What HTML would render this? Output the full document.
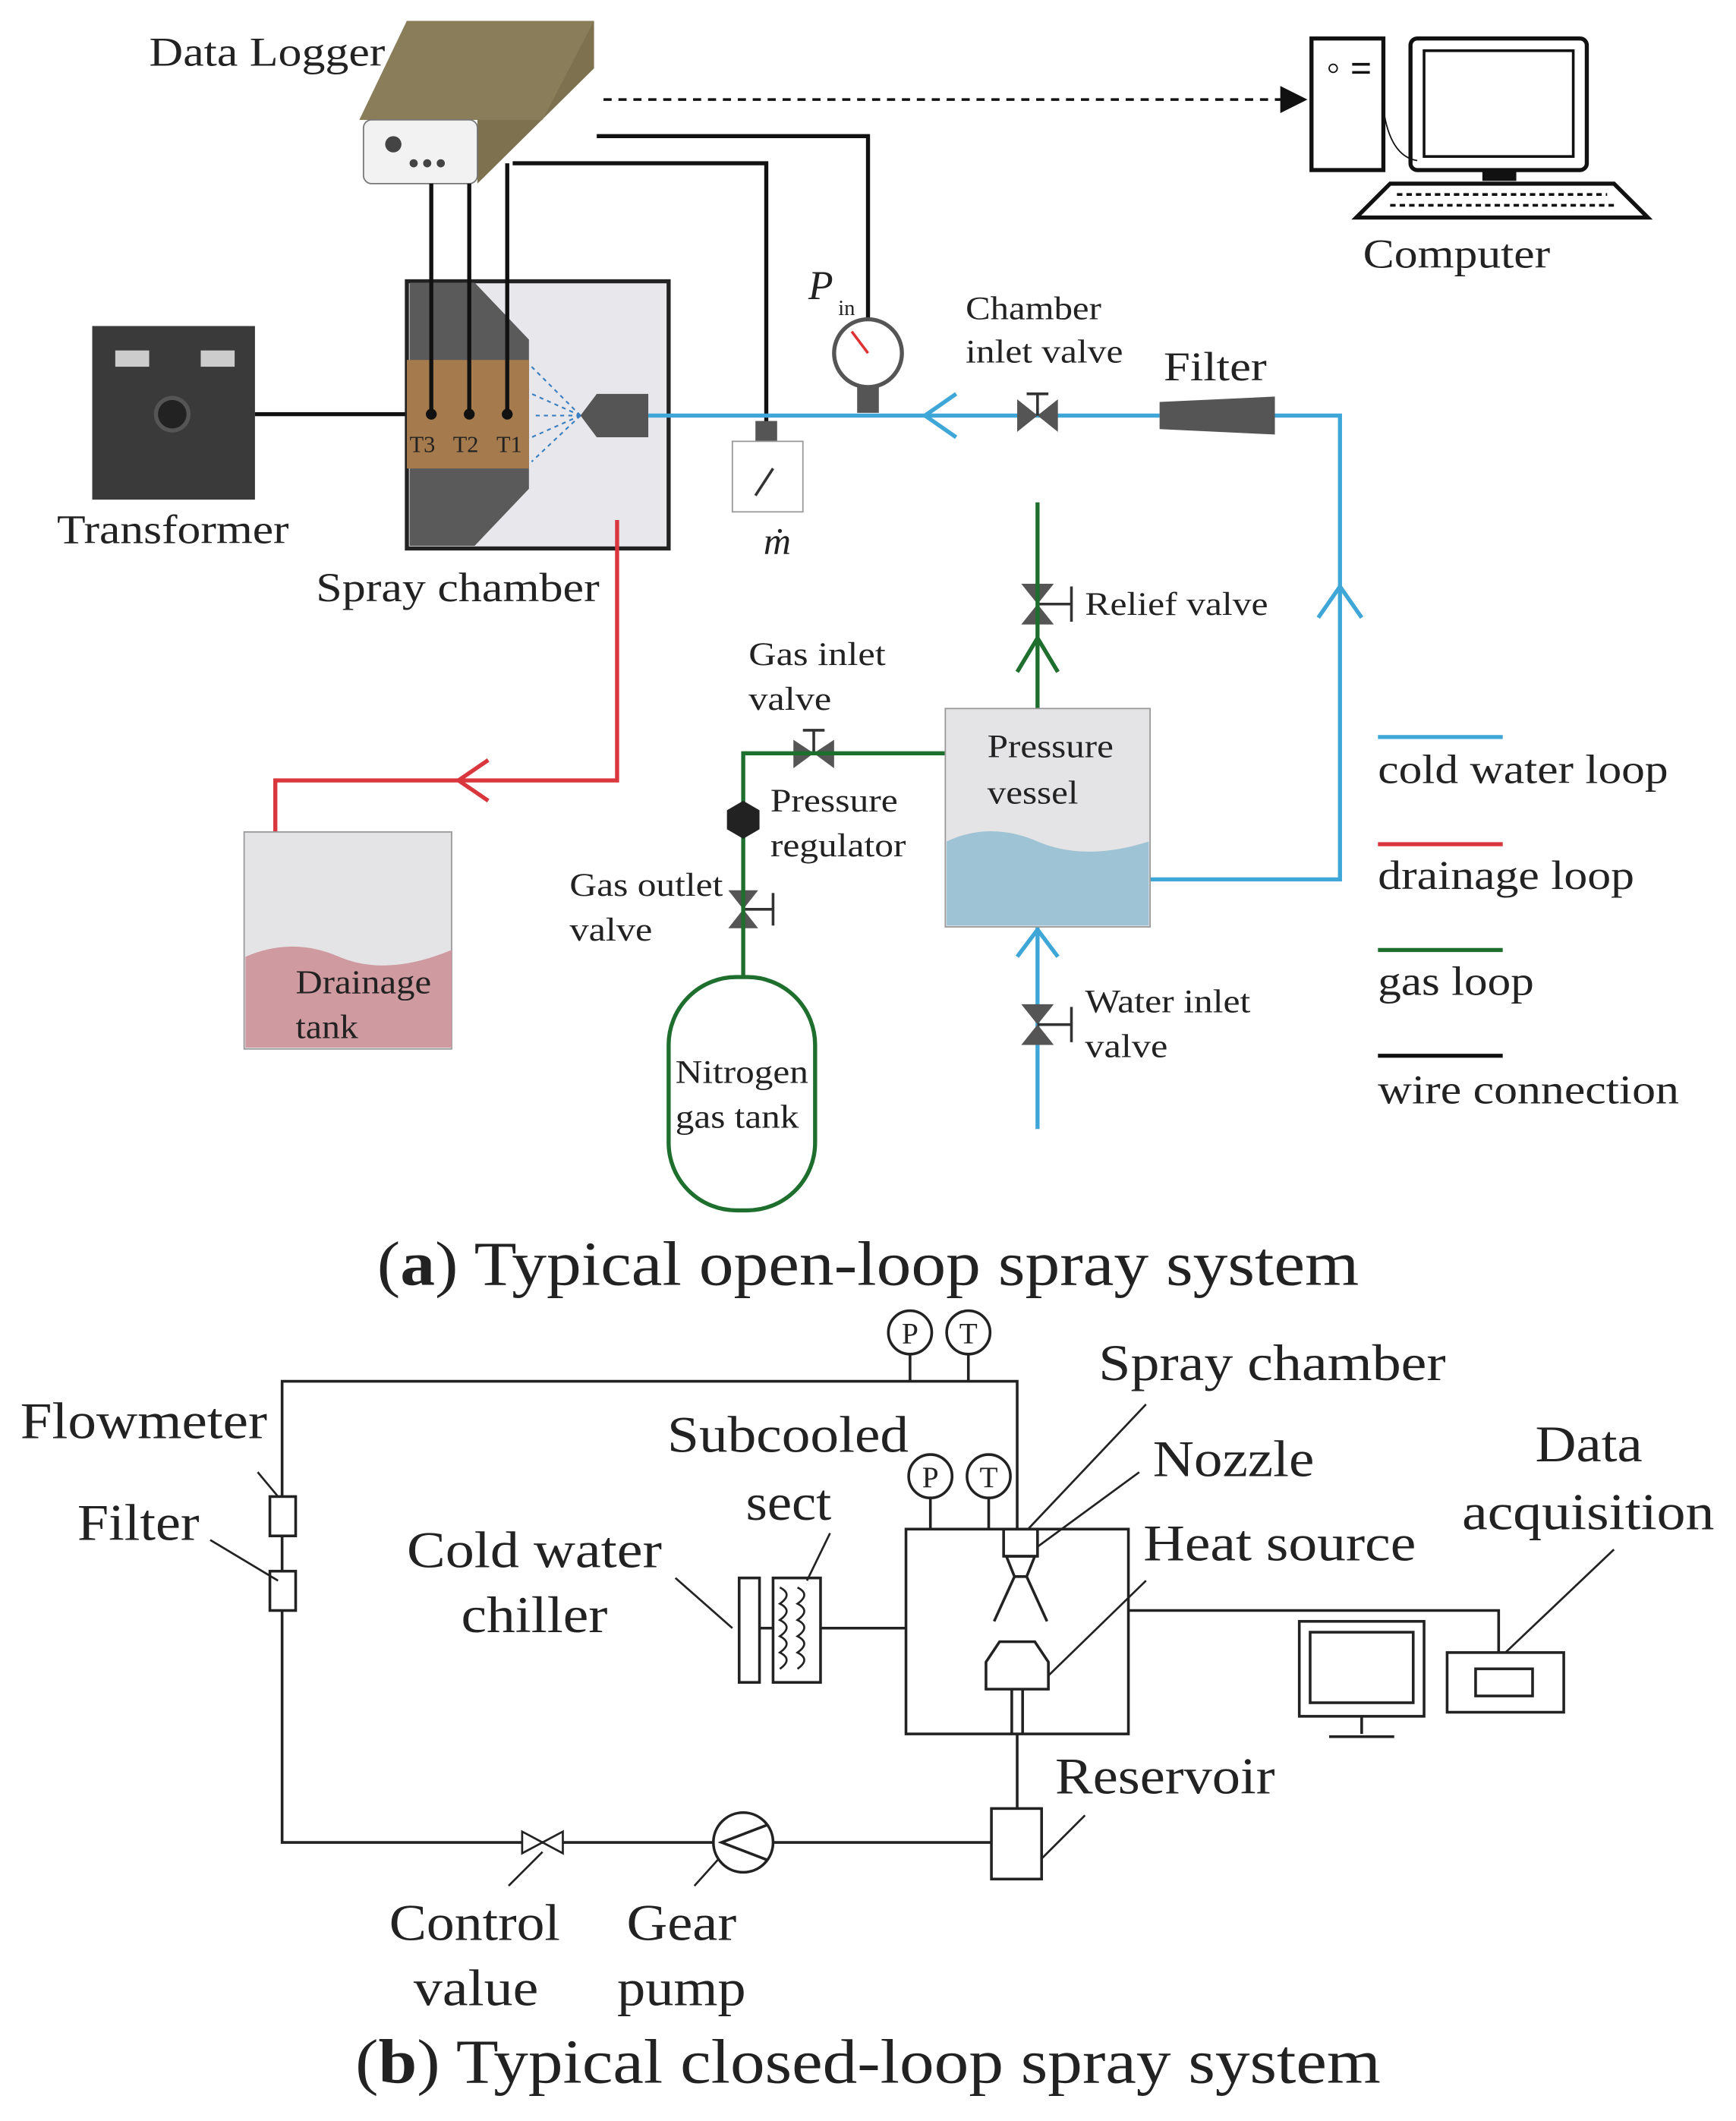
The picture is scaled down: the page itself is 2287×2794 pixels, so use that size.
<!DOCTYPE html>
<html><head><meta charset="utf-8"><style>
html,body{margin:0;padding:0;background:#fff}
svg{display:block}
text{font-family:"Liberation Serif",serif;fill:#222}
</style></head><body>
<svg width="2287" height="2794" viewBox="0 0 1280 1563" xmlns="http://www.w3.org/2000/svg">
<defs>
<marker id="ah" markerWidth="10" markerHeight="10" refX="9" refY="5" orient="auto"><path d="M0,0 L10,5 L0,10 z" fill="#111"/></marker>
</defs>
<!-- Data logger -->
<text x="110" y="48" font-size="30" textLength="174" lengthAdjust="spacingAndGlyphs">Data Logger</text>
<polygon points="265,88 300,15 438,15 438,50 352,135 352,88" fill="#7d7150"/>
<polygon points="265,88 300,15 438,15 400,88" fill="#8a7e5a"/>
<rect x="268" y="88" width="84" height="47" rx="6" fill="#f2f2f2" stroke="#777"/>
<circle cx="290" cy="106" r="6" fill="#444"/>
<circle cx="305" cy="120" r="3" fill="#444"/><circle cx="315" cy="120" r="3" fill="#444"/><circle cx="325" cy="120" r="3" fill="#444"/>
<line x1="445" y1="73" x2="962" y2="73" stroke="#111" stroke-width="2" stroke-dasharray="6,5" marker-end="url(#ah)"/>
<!-- Computer -->
<rect x="967" y="28" width="53" height="97" fill="#fff" stroke="#111" stroke-width="3"/>
<circle cx="983" cy="50" r="3" fill="none" stroke="#111"/><line x1="997" y1="47" x2="1010" y2="47" stroke="#111" stroke-width="2"/><line x1="997" y1="53" x2="1010" y2="53" stroke="#111" stroke-width="2"/>
<rect x="1040" y="28" width="130" height="97" rx="5" fill="#fff" stroke="#111" stroke-width="3"/>
<rect x="1050" y="37" width="110" height="78" fill="#fff" stroke="#111" stroke-width="2"/>
<rect x="1093" y="125" width="25" height="8" fill="#111"/>
<polygon points="1025,135 1190,135 1215,160 1000,160" fill="#fff" stroke="#111" stroke-width="3"/>
<line x1="1030" y1="143" x2="1185" y2="143" stroke="#111" stroke-width="2" stroke-dasharray="4,3"/>
<line x1="1025" y1="151" x2="1192" y2="151" stroke="#111" stroke-width="2" stroke-dasharray="4,3"/>
<path d="M1020,80 Q1025,115 1045,118" fill="none" stroke="#111"/>
<text x="1005" y="197" font-size="30" textLength="138" lengthAdjust="spacingAndGlyphs">Computer</text>
<!-- Transformer -->
<rect x="68" y="240" width="120" height="128" fill="#3a3a3a"/>
<rect x="85" y="258" width="25" height="12" fill="#ccc"/><rect x="148" y="258" width="25" height="12" fill="#ccc"/>
<circle cx="127" cy="305" r="12" fill="#222" stroke="#555" stroke-width="3"/>
<text x="42" y="400" font-size="30" textLength="171" lengthAdjust="spacingAndGlyphs">Transformer</text>
<line x1="188" y1="305" x2="300" y2="305" stroke="#111" stroke-width="3"/>
<!-- Spray chamber -->
<rect x="300" y="207" width="193" height="197" fill="#e8e8ec" stroke="#222" stroke-width="3"/>
<polygon points="302,208 350,208 390,250 390,360 350,402 302,402" fill="#5a5a5a"/>
<rect x="300" y="265" width="90" height="80" fill="#a57a4d"/>
<polygon points="440,290 478,290 478,322 440,322 428,306" fill="#555"/>
<g stroke="#3a7fc0" stroke-width="1.2" stroke-dasharray="3,3">
<line x1="428" y1="306" x2="392" y2="270"/><line x1="428" y1="306" x2="392" y2="290"/><line x1="428" y1="306" x2="392" y2="306"/><line x1="428" y1="306" x2="392" y2="322"/><line x1="428" y1="306" x2="392" y2="340"/></g>
<g stroke="#111" stroke-width="3" fill="none">
<line x1="318" y1="135" x2="318" y2="305"/><line x1="346" y1="135" x2="346" y2="305"/><line x1="374" y1="120" x2="374" y2="305"/>
<polyline points="378,120 565,120 565,312"/>
<polyline points="440,100 640,100 640,236"/>
</g>
<circle cx="318" cy="305" r="4" fill="#111"/><circle cx="346" cy="305" r="4" fill="#111"/><circle cx="374" cy="305" r="4" fill="#111"/>
<text x="302" y="333" font-size="17">T3</text><text x="334" y="333" font-size="17">T2</text><text x="366" y="333" font-size="17">T1</text>
<text x="233" y="443" font-size="30" textLength="209" lengthAdjust="spacingAndGlyphs">Spray chamber</text>
<!-- blue cold loop -->
<g stroke="#3fa6d8" stroke-width="3" fill="none">
<line x1="478" y1="306" x2="855" y2="306"/>
<polyline points="705,290 682,306 705,322"/>
<polyline points="940,306 988,306 988,648 848,648"/>
<polyline points="972,455 988,432 1004,455"/>
<line x1="765" y1="683" x2="765" y2="832"/>
<polyline points="750,705 765,685 780,705"/>
</g>
<polygon points="855,296 940,292 940,320 855,316" fill="#555"/>
<text x="858" y="280" font-size="30" textLength="76" lengthAdjust="spacingAndGlyphs">Filter</text>
<text x="712" y="235" font-size="24" textLength="100" lengthAdjust="spacingAndGlyphs">Chamber</text><text x="712" y="267" font-size="24" textLength="116" lengthAdjust="spacingAndGlyphs">inlet valve</text>
<!-- valve shapes -->
<g fill="#555">
<polygon points="750,294 765,306 750,318"/><polygon points="780,294 765,306 780,318"/>
<polygon points="753,430 765,445 777,430"/><polygon points="753,460 765,445 777,460"/>
<polygon points="753,740 765,755 777,740"/><polygon points="753,770 765,755 777,770"/>
<polygon points="585,545 600,555 585,566"/><polygon points="615,545 600,555 615,566"/>
<polygon points="537,656 548,670 559,656"/><polygon points="537,684 548,670 559,684"/>
</g>
<g stroke="#333" stroke-width="2"><line x1="765" y1="306" x2="765" y2="290"/><line x1="757" y1="290" x2="773" y2="290"/>
<line x1="765" y1="445" x2="790" y2="445"/><line x1="790" y1="432" x2="790" y2="458"/>
<line x1="765" y1="755" x2="790" y2="755"/><line x1="790" y1="742" x2="790" y2="768"/>
<line x1="600" y1="555" x2="600" y2="538"/><line x1="592" y1="538" x2="608" y2="538"/>
<line x1="548" y1="670" x2="570" y2="670"/><line x1="570" y1="658" x2="570" y2="682"/></g>
<!-- gauge -->
<rect x="632" y="282" width="16" height="22" fill="#555"/>
<circle cx="640" cy="260" r="25" fill="#fff" stroke="#555" stroke-width="3"/>
<line x1="640" y1="260" x2="628" y2="244" stroke="#d33" stroke-width="2"/>
<text x="596" y="220" font-size="30" font-style="italic">P</text><text x="618" y="232" font-size="16">in</text>
<!-- flowmeter -->
<rect x="557" y="310" width="16" height="15" fill="#555"/>
<rect x="540" y="325" width="52" height="52" fill="#fff" stroke="#999"/>
<line x1="557" y1="365" x2="570" y2="345" stroke="#333" stroke-width="2"/>
<text x="563" y="408" font-size="28" font-style="italic">ṁ</text>
<!-- red drainage -->
<g stroke="#d9363e" stroke-width="3" fill="none">
<polyline points="455,383 455,575 203,575 203,658"/>
<polyline points="360,560 338,575 360,590"/>
</g>
<rect x="180" y="613" width="153" height="160" fill="#e4e4e6" stroke="#999"/>
<path d="M181,705 Q215,690 250,705 T333,700 L333,772 L181,772 z" fill="#cf9aa0"/>
<text x="218" y="732" font-size="25" textLength="100" lengthAdjust="spacingAndGlyphs">Drainage</text><text x="218" y="765" font-size="25" textLength="46" lengthAdjust="spacingAndGlyphs">tank</text>
<!-- green gas -->
<g stroke="#1e6e2e" stroke-width="3" fill="none">
<line x1="765" y1="522" x2="765" y2="370"/>
<polyline points="750,495 765,470 780,495"/>
<polyline points="697,555 548,555 548,720"/>
<rect x="493" y="720" width="108" height="172" rx="50"/>
</g>
<polygon points="548,590 560,597 560,611 548,618 536,611 536,597" fill="#222"/>
<text x="800" y="453" font-size="24" textLength="135" lengthAdjust="spacingAndGlyphs">Relief valve</text>
<text x="552" y="490" font-size="24" textLength="101" lengthAdjust="spacingAndGlyphs">Gas inlet</text><text x="552" y="523" font-size="24" textLength="61" lengthAdjust="spacingAndGlyphs">valve</text>
<text x="568" y="598" font-size="24" textLength="94" lengthAdjust="spacingAndGlyphs">Pressure</text><text x="568" y="631" font-size="24" textLength="100" lengthAdjust="spacingAndGlyphs">regulator</text>
<text x="420" y="660" font-size="24" textLength="113" lengthAdjust="spacingAndGlyphs">Gas outlet</text><text x="420" y="693" font-size="24" textLength="61" lengthAdjust="spacingAndGlyphs">valve</text>
<text x="498" y="798" font-size="24" textLength="98" lengthAdjust="spacingAndGlyphs">Nitrogen</text><text x="498" y="831" font-size="24" textLength="91" lengthAdjust="spacingAndGlyphs">gas tank</text>
<text x="800" y="746" font-size="24" textLength="122" lengthAdjust="spacingAndGlyphs">Water inlet</text><text x="800" y="779" font-size="24" textLength="61" lengthAdjust="spacingAndGlyphs">valve</text>
<!-- pressure vessel -->
<rect x="697" y="522" width="151" height="161" fill="#e4e4e6" stroke="#999"/>
<path d="M698,620 Q730,605 765,620 T847,620 L847,682 L698,682 z" fill="#9ec3d4"/>
<text x="728" y="558" font-size="24" textLength="93" lengthAdjust="spacingAndGlyphs">Pressure</text><text x="728" y="592" font-size="24" textLength="67" lengthAdjust="spacingAndGlyphs">vessel</text>
<!-- legend -->
<line x1="1016" y1="543" x2="1108" y2="543" stroke="#3fa6d8" stroke-width="3"/>
<line x1="1016" y1="622" x2="1108" y2="622" stroke="#d9363e" stroke-width="3"/>
<line x1="1016" y1="700" x2="1108" y2="700" stroke="#1e6e2e" stroke-width="3"/>
<line x1="1016" y1="778" x2="1108" y2="778" stroke="#111" stroke-width="3"/>
<text x="1016" y="577" font-size="30" textLength="214" lengthAdjust="spacingAndGlyphs">cold water loop</text>
<text x="1016" y="655" font-size="30" textLength="189" lengthAdjust="spacingAndGlyphs">drainage loop</text>
<text x="1016" y="733" font-size="30" textLength="115" lengthAdjust="spacingAndGlyphs">gas loop</text>
<text x="1016" y="813" font-size="30" textLength="222" lengthAdjust="spacingAndGlyphs">wire connection</text>
<text x="278" y="947" font-size="46" textLength="724" lengthAdjust="spacingAndGlyphs">(<tspan font-weight="bold">a</tspan>) Typical open-loop spray system</text>
<!-- Part b -->
<g stroke="#222" stroke-width="2" fill="none">
<polyline points="750,1127 750,1018 208,1018 208,1358 731,1358"/>
<line x1="750" y1="1278" x2="750" y2="1333"/>
<rect x="731" y="1333" width="37" height="52" fill="#fff"/>
<line x1="671" y1="998" x2="671" y2="1018"/><line x1="714" y1="998" x2="714" y2="1018"/>
<line x1="686" y1="1104" x2="686" y2="1127"/><line x1="729" y1="1104" x2="729" y2="1127"/>
<rect x="668" y="1127" width="164" height="151"/>
<rect x="199" y="1103" width="19" height="29" fill="#fff"/><rect x="199" y="1158" width="19" height="29" fill="#fff"/>
<rect x="545" y="1163" width="15" height="77"/>
<rect x="570" y="1163" width="35" height="77"/>
<line x1="605" y1="1200" x2="668" y2="1200"/>
<line x1="560" y1="1200" x2="570" y2="1200"/>
<polyline points="832,1187 1105,1187 1105,1218"/>
<rect x="1067" y="1218" width="86" height="44"/><rect x="1088" y="1230" width="42" height="20"/>
<rect x="958" y="1195" width="92" height="70"/><rect x="966" y="1203" width="76" height="52"/>
<line x1="1004" y1="1265" x2="1004" y2="1278"/><line x1="980" y1="1280" x2="1028" y2="1280"/>
<rect x="740" y="1127" width="25" height="20"/>
<polygon points="742,1147 763,1147 757,1162 748,1162"/>
<line x1="748" y1="1162" x2="733" y2="1195"/><line x1="757" y1="1162" x2="772" y2="1195"/>
<path d="M727,1245 L727,1225 L737,1210 L763,1210 L773,1225 L773,1245 z"/>
<line x1="746" y1="1245" x2="746" y2="1278"/><line x1="754" y1="1245" x2="754" y2="1278"/>
<circle cx="548" cy="1358" r="22" fill="#fff"/>
<polyline points="566,1345 532,1358 566,1371"/>
</g>
<g stroke="#222" stroke-width="1.5" fill="none">
<path d="M575,1170 q10,5 0,12 q10,5 0,12 q10,5 0,12 q10,5 0,12 q10,5 0,12 M588,1170 q10,5 0,12 q10,5 0,12 q10,5 0,12 q10,5 0,12 q10,5 0,12"/>
<line x1="190" y1="1085" x2="205" y2="1103"/><line x1="155" y1="1135" x2="205" y2="1165"/>
<line x1="498" y1="1163" x2="540" y2="1200"/>
<line x1="612" y1="1130" x2="595" y2="1165"/>
<line x1="758" y1="1127" x2="845" y2="1035"/><line x1="765" y1="1140" x2="840" y2="1085"/>
<line x1="773" y1="1235" x2="845" y2="1165"/>
<line x1="1110" y1="1218" x2="1190" y2="1142"/>
<line x1="768" y1="1370" x2="800" y2="1338"/>
<line x1="400" y1="1365" x2="375" y2="1390"/><line x1="530" y1="1370" x2="512" y2="1390"/>
</g>
<polygon points="385,1350 400,1358 385,1366" fill="#fff" stroke="#222" stroke-width="1.5"/>
<polygon points="415,1350 400,1358 415,1366" fill="#fff" stroke="#222" stroke-width="1.5"/>
<g fill="#fff" stroke="#222" stroke-width="2">
<circle cx="671" cy="982" r="16"/><circle cx="714" cy="982" r="16"/>
<circle cx="686" cy="1088" r="16"/><circle cx="729" cy="1088" r="16"/></g>
<g font-size="22" text-anchor="middle"><text x="671" y="990">P</text><text x="714" y="990">T</text><text x="686" y="1096">P</text><text x="729" y="1096">T</text></g>
<g font-size="38" lengthAdjust="spacingAndGlyphs">
<text x="15" y="1060" textLength="182" lengthAdjust="spacingAndGlyphs">Flowmeter</text><text x="57" y="1135" textLength="90" lengthAdjust="spacingAndGlyphs">Filter</text>
<text x="300" y="1155" textLength="188" lengthAdjust="spacingAndGlyphs">Cold water</text><text x="340" y="1203" textLength="108" lengthAdjust="spacingAndGlyphs">chiller</text>
<text x="492" y="1070" textLength="178" lengthAdjust="spacingAndGlyphs">Subcooled</text><text x="550" y="1120" textLength="63" lengthAdjust="spacingAndGlyphs">sect</text>
<text x="810" y="1017" textLength="256" lengthAdjust="spacingAndGlyphs">Spray chamber</text><text x="850" y="1088" textLength="119" lengthAdjust="spacingAndGlyphs">Nozzle</text>
<text x="843" y="1150" textLength="201" lengthAdjust="spacingAndGlyphs">Heat source</text>
<text x="1132" y="1077" textLength="79" lengthAdjust="spacingAndGlyphs">Data</text><text x="1078" y="1127" textLength="186" lengthAdjust="spacingAndGlyphs">acquisition</text>
<text x="778" y="1322" textLength="162" lengthAdjust="spacingAndGlyphs">Reservoir</text>
<text x="287" y="1430" textLength="126" lengthAdjust="spacingAndGlyphs">Control</text><text x="305" y="1478" textLength="92" lengthAdjust="spacingAndGlyphs">value</text>
<text x="462" y="1430" textLength="81" lengthAdjust="spacingAndGlyphs">Gear</text><text x="455" y="1478" textLength="95" lengthAdjust="spacingAndGlyphs">pump</text>
</g>
<text x="262" y="1535" font-size="46" textLength="756" lengthAdjust="spacingAndGlyphs">(<tspan font-weight="bold">b</tspan>) Typical closed-loop spray system</text>
</svg>
</body></html>
